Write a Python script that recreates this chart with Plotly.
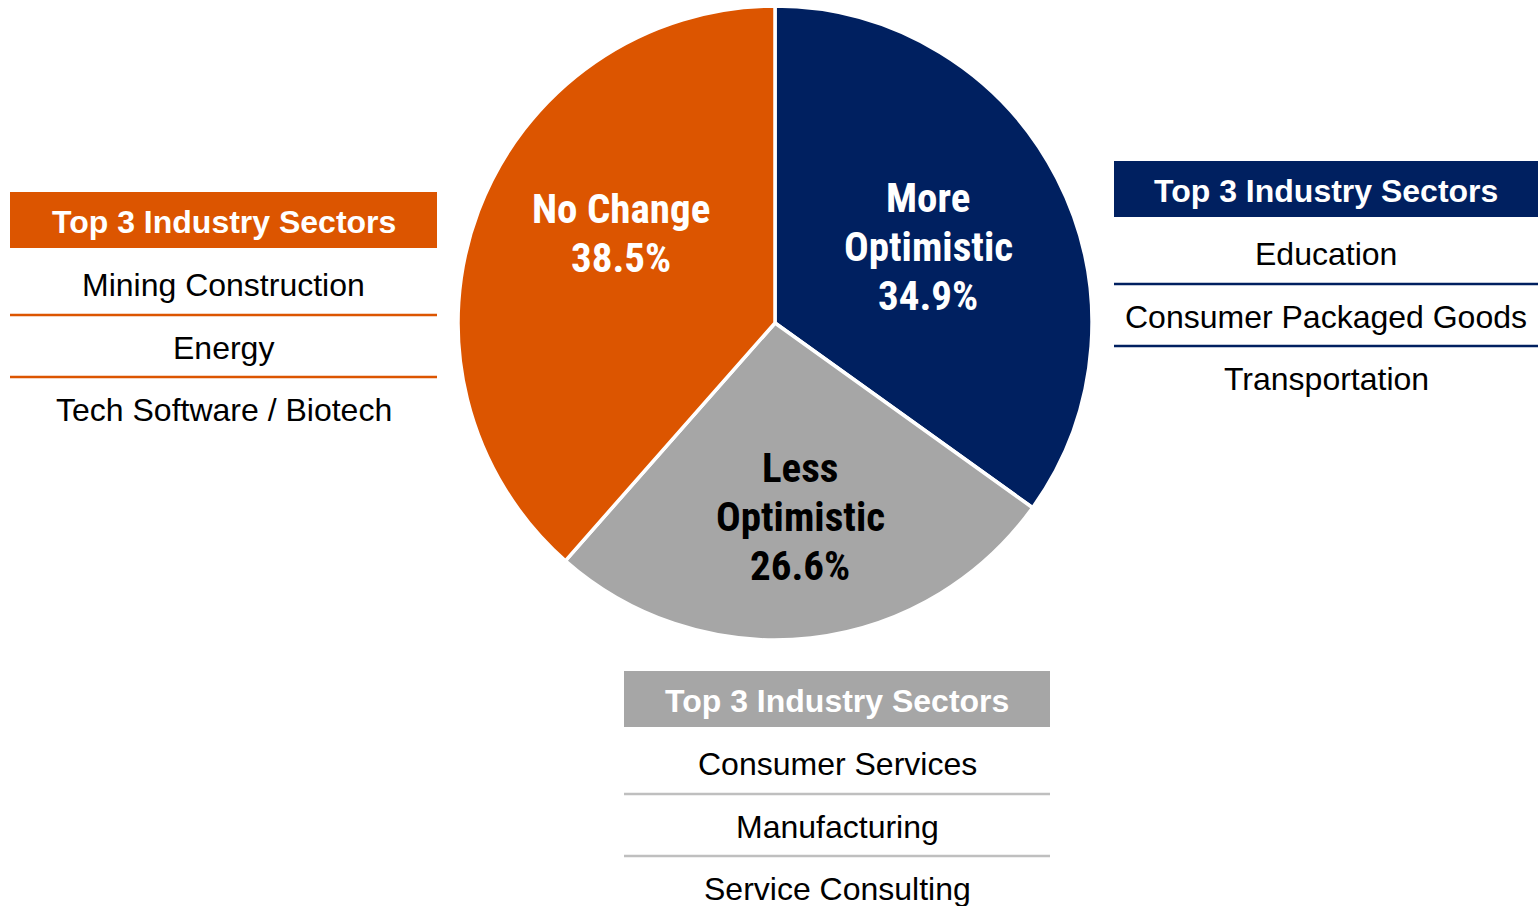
import plotly.graph_objects as go

# Survey outlook split
categories = ["More Optimistic", "Less Optimistic", "No Change"]
shares = [34.9, 26.6, 38.5]
slice_colors = ["#002060", "#A6A6A6", "#DC5500"]
label_colors = ["#FFFFFF", "#000000", "#FFFFFF"]

# Top sectors for each outlook group
table_header = "Top 3 Industry Sectors"
sectors_more = ["Education", "Consumer Packaged Goods", "Transportation"]
sectors_less = ["Consumer Services", "Manufacturing", "Service Consulting"]
sectors_none = ["Mining Construction", "Energy", "Tech Software / Biotech"]

W, H = 1538, 906
NARROW = "Liberation Sans Narrow, Arial Narrow, Roboto Condensed, sans-serif"
SANS = "Liberation Sans, Arial, sans-serif"


def px(x):
    return x / W


def py(y):
    return 1 - y / H


fig = go.Figure()
fig.add_trace(go.Pie(
    labels=categories,
    values=shares,
    sort=False,
    direction="clockwise",
    rotation=0,
    marker=dict(colors=slice_colors, line=dict(color="#FFFFFF", width=3.5)),
    textinfo="none",
    hoverinfo="label+percent",
    domain=dict(x=[px(458), px(1092)], y=[py(640), py(6)]),
    showlegend=False,
))

# Slice labels, one annotation per line so the line spacing stays tight
label_lines = {
    "More Optimistic": (928, 198, ["More", "Optimistic"]),
    "Less Optimistic": (800, 468, ["Less", "Optimistic"]),
    "No Change": (621, 209, ["No Change"]),
}
line_step = 49
for cat, val, col in zip(categories, shares, label_colors):
    x, y_top, words = label_lines[cat]
    for k, line in enumerate(words + [f"{val:.1f}%"]):
        fig.add_annotation(
            x=px(x), y=py(y_top + k * line_step), xref="paper", yref="paper",
            text=f"<b>{line}</b>", showarrow=False,
            font=dict(family=NARROW, size=41, color=col),
            xanchor="center", yanchor="middle",
        )

# Sector tables: header band, three rows, separators between rows
tables = [
    (sectors_none, 10, 437, 192, "#DC5500", "#DC5500"),
    (sectors_more, 1114, 1538, 161, "#002060", "#002060"),
    (sectors_less, 624, 1050, 671, "#A6A6A6", "#BFBFBF"),
]
header_h = 56
row_text_offsets = [93, 155.5, 218]
rule_offsets = [123, 185]
for rows, x0, x1, y0, head_col, rule_col in tables:
    xc = px((x0 + x1) / 2)
    fig.add_shape(
        type="rect", xref="paper", yref="paper",
        x0=px(x0), x1=px(x1), y0=py(y0), y1=py(y0 + header_h),
        fillcolor=head_col, line=dict(width=0), layer="above",
    )
    fig.add_annotation(
        x=xc, y=py(y0 + 30), xref="paper", yref="paper",
        text=f"<b>{table_header}</b>", showarrow=False,
        font=dict(family=SANS, size=32, color="#FFFFFF"),
        xanchor="center", yanchor="middle",
    )
    for name, off in zip(rows, row_text_offsets):
        fig.add_annotation(
            x=xc, y=py(y0 + off), xref="paper", yref="paper",
            text=name, showarrow=False,
            font=dict(family=SANS, size=32, color="#000000"),
            xanchor="center", yanchor="middle",
        )
    for off in rule_offsets:
        fig.add_shape(
            type="line", xref="paper", yref="paper",
            x0=px(x0), x1=px(x1), y0=py(y0 + off), y1=py(y0 + off),
            line=dict(color=rule_col, width=2.5),
        )

fig.update_layout(
    width=W, height=H,
    margin=dict(l=0, r=0, t=0, b=0),
    paper_bgcolor="#FFFFFF", plot_bgcolor="#FFFFFF",
)

fig.write_html("out.html")
